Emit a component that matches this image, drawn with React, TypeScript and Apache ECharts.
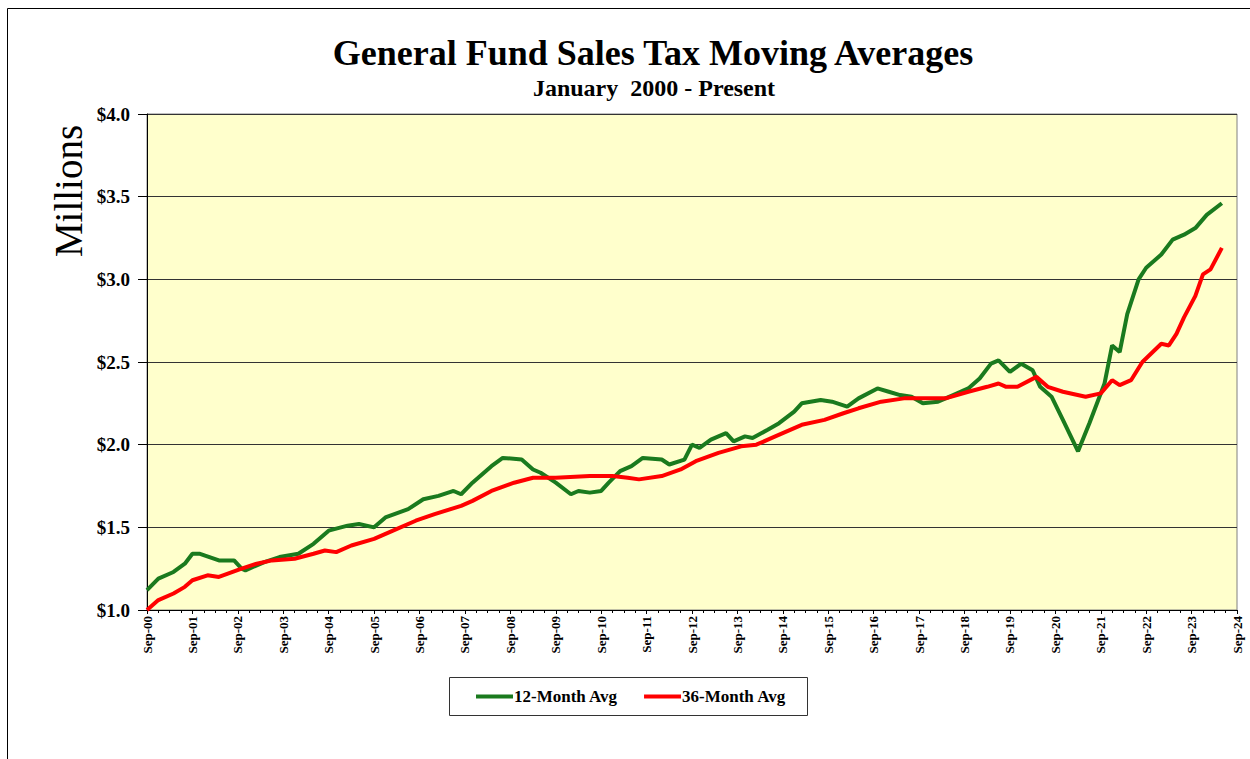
import React, { useEffect, useRef } from "react";
import * as echarts from "echarts";

// month index counted from Sep-2000 (0) ; values in $ millions
const months12 = [0, 3, 7, 10, 12, 14, 19, 23, 25, 26, 31, 35, 40, 44, 48, 53, 56, 60, 63, 69, 73, 77, 81, 83, 86, 91, 94, 99, 102, 104, 108, 112, 114, 117, 120, 122, 125, 128, 131, 136, 138, 142, 144, 146, 149, 153, 155, 158, 160, 164, 167, 171, 173, 178, 181, 185, 188, 193, 196, 199, 202, 205, 209, 213, 217, 220, 223, 225, 228, 231, 234, 236, 239, 242, 246, 249, 253, 255, 257, 259, 262, 264, 268, 271, 274, 277, 280, 284];
const avg12 = [1.12, 1.19, 1.23, 1.28, 1.34, 1.34, 1.30, 1.30, 1.25, 1.24, 1.29, 1.32, 1.34, 1.40, 1.48, 1.51, 1.52, 1.50, 1.56, 1.61, 1.67, 1.69, 1.72, 1.70, 1.77, 1.87, 1.92, 1.91, 1.85, 1.83, 1.77, 1.70, 1.72, 1.71, 1.72, 1.77, 1.84, 1.87, 1.92, 1.91, 1.88, 1.91, 2.00, 1.98, 2.03, 2.07, 2.02, 2.05, 2.04, 2.09, 2.13, 2.20, 2.25, 2.27, 2.26, 2.23, 2.28, 2.34, 2.32, 2.30, 2.29, 2.25, 2.26, 2.30, 2.34, 2.40, 2.49, 2.51, 2.44, 2.49, 2.45, 2.35, 2.29, 2.15, 1.96, 2.13, 2.37, 2.60, 2.56, 2.79, 3.00, 3.07, 3.15, 3.24, 3.27, 3.31, 3.39, 3.46];

const months36 = [0, 3, 7, 10, 12, 16, 19, 25, 29, 33, 39, 44, 47, 50, 54, 60, 65, 71, 76, 83, 86, 91, 97, 102, 108, 117, 123, 127, 130, 136, 141, 145, 151, 157, 161, 166, 173, 179, 184, 188, 194, 200, 206, 211, 217, 222, 225, 227, 230, 235, 238, 242, 248, 252, 255, 257, 260, 263, 268, 270, 272, 274, 277, 279, 281, 284];
const avg36 = [1.00, 1.06, 1.10, 1.14, 1.18, 1.21, 1.20, 1.25, 1.28, 1.30, 1.31, 1.34, 1.36, 1.35, 1.39, 1.43, 1.48, 1.54, 1.58, 1.63, 1.66, 1.72, 1.77, 1.80, 1.80, 1.81, 1.81, 1.80, 1.79, 1.81, 1.85, 1.90, 1.95, 1.99, 2.00, 2.05, 2.12, 2.15, 2.19, 2.22, 2.26, 2.28, 2.28, 2.28, 2.32, 2.35, 2.37, 2.35, 2.35, 2.41, 2.35, 2.32, 2.29, 2.31, 2.39, 2.36, 2.39, 2.50, 2.61, 2.60, 2.67, 2.77, 2.90, 3.03, 3.06, 3.19];

const xTickLabels = ["Sep-00", "Sep-01", "Sep-02", "Sep-03", "Sep-04", "Sep-05", "Sep-06", "Sep-07", "Sep-08", "Sep-09", "Sep-10", "Sep-11", "Sep-12", "Sep-13", "Sep-14", "Sep-15", "Sep-16", "Sep-17", "Sep-18", "Sep-19", "Sep-20", "Sep-21", "Sep-22", "Sep-23", "Sep-24"];

const seriesNames = ["12-Month Avg", "36-Month Avg"];
const FONT = "'Times New Roman', 'Liberation Serif', serif";

export default function App() {
  const ref = useRef<HTMLDivElement>(null);
  useEffect(() => {
    const chart = echarts.init(ref.current!, null, { renderer: "svg" });
    chart.setOption({
      animation: false,
      backgroundColor: "#ffffff",
      grid: {
        left: 147,
        right: 13,
        top: 114,
        bottom: 149,
        show: true,
        backgroundColor: "#FFFFCC",
        borderColor: "#808080",
        borderWidth: 1,
      },
      xAxis: {
        type: "value",
        min: 0,
        max: 288,
        interval: 12,
        axisLine: { show: true, onZero: false, lineStyle: { color: "#000", width: 1 } },
        axisTick: { show: true, length: 4, lineStyle: { color: "#000" } },
        minorTick: { show: true, splitNumber: 4, length: 3, lineStyle: { color: "#000" } },
        splitLine: { show: false },
        axisLabel: {
          rotate: 90,
          margin: 6,
          formatter: (v: number) => xTickLabels[Math.round(v / 12)] ?? "",
          fontFamily: FONT,
          fontWeight: "bold",
          fontSize: 13,
          color: "#000",
        },
      },
      yAxis: {
        type: "value",
        min: 1,
        max: 4,
        interval: 0.5,
        axisLine: { show: true, onZero: false, lineStyle: { color: "#000", width: 1 } },
        axisTick: { show: true, length: 9, lineStyle: { color: "#000" } },
        splitLine: { show: true, lineStyle: { color: "#333333", width: 1 } },
        axisLabel: {
          formatter: (v: number) => "$" + v.toFixed(1),
          fontFamily: FONT,
          fontWeight: "bold",
          fontSize: 19,
          color: "#000",
          margin: 17,
        },
      },
      legend: {
        show: true,
        left: 476,
        top: 688,
        padding: 0,
        itemWidth: 37,
        itemHeight: 4,
        itemGap: 26,
        icon: "rect",
        data: seriesNames,
        textStyle: { fontFamily: FONT, fontWeight: "bold", fontSize: 17, color: "#000", padding: [0, 0, 0, -4] },
      },
      series: [
        {
          name: seriesNames[0],
          type: "line",
          symbol: "none",
          data: months12.map((m, i) => [m, avg12[i]]),
          lineStyle: { width: 4, color: "#1a7a1e" },
          itemStyle: { color: "#1a7a1e" },
        },
        {
          name: seriesNames[1],
          type: "line",
          symbol: "none",
          data: months36.map((m, i) => [m, avg36[i]]),
          lineStyle: { width: 4, color: "#ff0000" },
          itemStyle: { color: "#ff0000" },
        },
      ],
      graphic: [
        {
          type: "rect",
          shape: { x: 7.5, y: 8.5, width: 1270, height: 780 },
          style: { fill: "none", stroke: "#000", lineWidth: 1 },
          silent: true,
        },
        {
          type: "rect",
          shape: { x: 449.5, y: 677.5, width: 358, height: 38 },
          style: { fill: "none", stroke: "#333", lineWidth: 1 },
          silent: true,
        },
        {
          type: "text",
          x: 653,
          y: 53,
          style: {
            text: "General Fund Sales Tax Moving Averages",
            font: "bold 36px " + FONT,
            fill: "#000",
            align: "center",
            verticalAlign: "middle",
          },
        },
        {
          type: "text",
          x: 654,
          y: 88,
          style: {
            text: "January  2000 - Present",
            font: "bold 24px " + FONT,
            fill: "#000",
            align: "center",
            verticalAlign: "middle",
          },
        },
        {
          type: "text",
          x: 68,
          y: 191,
          rotation: Math.PI / 2,
          style: {
            text: "Millions",
            font: "39px " + FONT,
            fill: "#000",
            align: "center",
            verticalAlign: "middle",
          },
        },
      ],
    });
    return () => chart.dispose();
  }, []);
  return (
    <div
      ref={ref}
      style={{ position: "fixed", left: 0, top: 0, width: 1250, height: 759, background: "#fff" }}
    />
  );
}
